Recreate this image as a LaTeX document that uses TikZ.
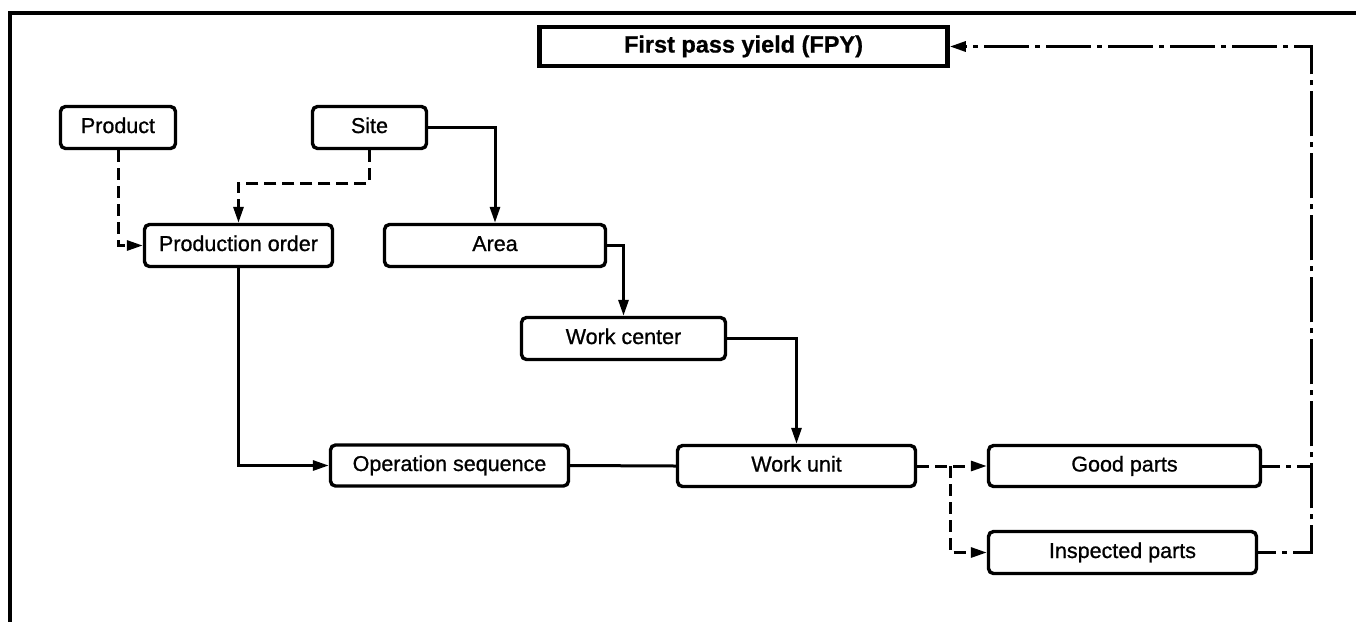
\documentclass[tikz,border=0pt]{standalone}
\usepackage{fontspec}
\setmainfont{Liberation Sans}
\newfontfamily\boxfont[FakeBold=0.9]{Liberation Sans}
\newfontfamily\fpyfont[FakeBold=0.8]{Liberation Sans Bold}
\usetikzlibrary{arrows.meta}
\tikzset{
  box/.style={draw, line width=3.4pt, rounded corners=5pt, inner sep=0pt,
    font=\boxfont\fontsize{21.5}{24}\selectfont, text height=15pt, text depth=4pt},
  fpybox/.style={draw, line width=4.6pt, inner sep=0pt,
    font=\fpyfont\fontsize{23.5}{28}\selectfont, text height=17pt, text depth=5pt},
  conn/.style={line width=3pt},
  arr/.style={conn, -{Triangle[length=16pt,width=10pt]}},
  dashline/.style={conn, dash pattern=on 12pt off 6pt},
  dashdotline/.style={conn, dash pattern=on 45pt off 6pt on 5pt off 6pt},
  shortdd/.style={dashdotline, dash phase=27pt},
  frameline/.style={line width=4pt}
}
\begin{document}
\begin{tikzpicture}[x=1pt,y=-1pt]
\useasboundingbox (0,0) rectangle (1356,622);
% frame
\draw[frameline] (1356,12.5) -- (9.5,12.5) -- (9.5,622);
% nodes
\node[fpybox, minimum width=408pt, minimum height=39pt] (fpy) at (743.5,46.5) {First pass yield (FPY)};
\node[box, minimum width=115pt, minimum height=42pt] (product) at (118,127.5) {Product};
\node[box, minimum width=114pt, minimum height=42pt] (site) at (369.5,127.5) {Site};
\node[box, minimum width=188pt, minimum height=42pt] (porder) at (238.5,245.5) {Production order};
\node[box, minimum width=221pt, minimum height=42pt] (area) at (495,245.5) {Area};
\node[box, minimum width=204pt, minimum height=42pt] (wcenter) at (623.5,338.5) {Work center};
\node[box, minimum width=238pt, minimum height=41pt] (opseq) at (449.5,465.5) {Operation sequence};
\node[box, minimum width=238pt, minimum height=41pt] (wunit) at (796.5,466) {Work unit};
\node[box, minimum width=272pt, minimum height=41pt] (good) at (1124.5,466) {Good parts};
\node[box, minimum width=268pt, minimum height=42pt] (insp) at (1122.5,552.5) {Inspected parts};
\coordinate (br) at (950,466);
\coordinate (rtop) at (1311,46.5);
\coordinate (sitebend) at (369.5,183);
% connectors
\draw[arr, dashline] (product.south) |- (porder.west);
\draw[arr, dashline] (site.south) -- (sitebend) -| (porder.north);
\draw[arr] (site.east) -| (area.north);
\draw[arr] (area.east) -| (wcenter.north);
\draw[arr] (wcenter.east) -| (wunit.north);
\draw[arr] (porder.south) |- (opseq.west);
\draw[conn] (opseq.east) -- (wunit.west);
\draw[arr, dashline] (wunit.east) -- (good.west);
\draw[arr, dashline] (br) |- (insp.west);
\draw[shortdd] (good.east) -- (good.east -| rtop);
\draw[arr, shortdd] (insp.east) -| (rtop) -- (fpy.east);
\end{tikzpicture}
\end{document}
